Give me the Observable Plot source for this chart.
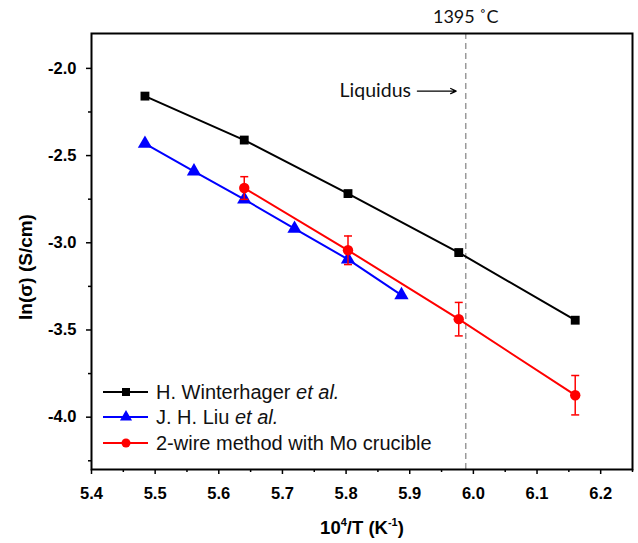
<!DOCTYPE html>
<html><head><meta charset="utf-8">
<script src="https://cdn.jsdelivr.net/npm/d3@7"></script>
<script src="https://cdn.jsdelivr.net/npm/@observablehq/plot@0.6"></script>
<style>
body{margin:0;background:#fff}
svg g[aria-label$="tick label"], svg g[aria-label$="tick label"] text { font-weight: 700 !important; font-family: "Liberation Sans", Arial, sans-serif !important; }
</style>
</head><body><div id="chart"></div>
<script>
// Data
const winterX = [5.484, 5.640, 5.803, 5.977, 6.160];
const winterY = [-2.159, -2.411, -2.718, -3.056, -3.444];
const liuX = [5.484, 5.561, 5.640, 5.719, 5.803, 5.887];
const liuY = [-2.432, -2.590, -2.751, -2.919, -3.095, -3.300];
const moX = [5.640, 5.803, 5.977, 6.160];
const moY = [-2.686, -3.043, -3.438, -3.874];
const moErr = [0.065, 0.082, 0.096, 0.113];
const liquidusX = 5.988;
const liquidusLabel = "1395 ˚C";
const xTicks = [5.4, 5.5, 5.6, 5.7, 5.8, 5.9, 6.0, 6.1, 6.2];
const xMinor = [5.45, 5.55, 5.65, 5.75, 5.85, 5.95, 6.05, 6.15, 6.25];
const yTicks = [-2.0, -2.5, -3.0, -3.5, -4.0];
const yMinor = [-2.25, -2.75, -3.25, -3.75, -4.25];
const seriesNames = ["H. Winterhager", "J. H. Liu", "2-wire method with Mo crucible"];
const seriesItalic = [" et al.", " et al.", ""];
const seriesColors = ["black", "blue", "red"];
const seriesSymbols = ["square", "triangle", "circle"];
const annotation = {text: "Liquidus", x: 5.902, y: -2.13, arrowX1: 5.912, arrowX2: 5.973};

const winter = winterX.map((x, i) => ({x, y: winterY[i]}));
const liu = liuX.map((x, i) => ({x, y: liuY[i]}));
const mo = moX.map((x, i) => ({x, y: moY[i], e: moErr[i]}));

const capSymbol = {draw(ctx, size) { const w = 4; ctx.moveTo(-w, 0); ctx.lineTo(w, 0); }};
const sansFont = '"Liberation Sans", Arial, sans-serif';
const calFont = 'Lato, "Open Sans", sans-serif';
const fmt = d => d.toFixed(1);

const plot = Plot.plot({
  width: 638, height: 543,
  marginLeft: 91, marginRight: 6, marginTop: 33, marginBottom: 74,
  style: {fontFamily: sansFont, background: "white", overflow: "visible"},
  x: {domain: [5.4, 6.25]},
  y: {domain: [-4.3, -1.8]},
  marks: [
    Plot.ruleX([liquidusX], {stroke: "#9a9a9a", strokeWidth: 1.5, strokeDasharray: "6,4"}),
    Plot.text([liquidusX], {x: d => d, frameAnchor: "top", dy: -23, text: () => liquidusLabel,
      fontFamily: calFont, fontSize: 18, fill: "#111"}),
    Plot.text([annotation], {x: "x", y: "y", text: "text", textAnchor: "end",
      fontFamily: calFont, fontSize: 19.5, fill: "#111"}),
    Plot.arrow([annotation], {x1: "arrowX1", x2: "arrowX2", y1: "y", y2: "y",
      stroke: "black", strokeWidth: 1.3, headLength: 7, headAngle: 50}),
    Plot.line(winter, {x: "x", y: "y", stroke: "black", strokeWidth: 2}),
    Plot.dot(winter, {x: "x", y: "y", symbol: "square", r: 5, fill: "black"}),
    Plot.line(liu, {x: "x", y: "y", stroke: "blue", strokeWidth: 2}),
    Plot.dot(liu, {x: "x", y: "y", symbol: "triangle", r: 5.3, fill: "blue"}),
    Plot.ruleX(mo, {x: "x", y1: d => d.y - d.e, y2: d => d.y + d.e, stroke: "red", strokeWidth: 1.5}),
    Plot.dot(mo, {x: "x", y: d => d.y - d.e, symbol: capSymbol, stroke: "red", strokeWidth: 1.5, fill: "none"}),
    Plot.dot(mo, {x: "x", y: d => d.y + d.e, symbol: capSymbol, stroke: "red", strokeWidth: 1.5, fill: "none"}),
    Plot.line(mo, {x: "x", y: "y", stroke: "red", strokeWidth: 2}),
    Plot.dot(mo, {x: "x", y: "y", symbol: "circle", r: 5.2, fill: "red"}),
    Plot.frame({stroke: "black", strokeWidth: 2}),
    Plot.axisX(xTicks, {tickSize: 5, tickPadding: 13, tickFormat: fmt, fontSize: 16.5, fontWeight: "bold", label: null, stroke: "black", strokeWidth: 1.5, fill: "black"}),
    Plot.axisX(xMinor, {tickSize: 3, tickFormat: null, text: null, label: null, stroke: "black", strokeWidth: 1.5}),
    Plot.axisY(yTicks, {tickSize: 5, tickPadding: 10, tickFormat: fmt, fontSize: 16.5, fontWeight: "bold", label: null, stroke: "black", strokeWidth: 1.5, fill: "black"}),
    Plot.axisY(yMinor, {tickSize: 3, tickFormat: null, text: null, label: null, stroke: "black", strokeWidth: 1.5})
  ]
});
document.getElementById("chart").appendChild(plot);

const svg = d3.select(plot);
svg.selectAll("g[aria-label$='tick label'] text")
  .attr("font-weight", "bold").style("font-weight", "bold");

// axis titles
const xt = svg.append("text").attr("x", 362).attr("y", 534).attr("text-anchor", "middle")
  .style("font-family", sansFont).style("font-size", "18.5px").style("font-weight", "bold");
xt.append("tspan").text("10");
xt.append("tspan").style("font-size", "11px").attr("dy", -8).text("4");
xt.append("tspan").attr("dy", 8).text("/T (K");
xt.append("tspan").style("font-size", "11px").attr("dy", -8).text("-1");
xt.append("tspan").attr("dy", 8).text(")");

svg.append("text").attr("transform", "translate(25,267) rotate(-90)").attr("text-anchor", "middle")
  .attr("dy", "0.35em")
  .style("font-family", sansFont).style("font-size", "19px").style("font-weight", "bold")
  .text("ln(σ) (S/cm)");

// legend
const lg = svg.append("g");
const rowY = [392, 417, 443];
seriesNames.forEach((name, i) => {
  const y = rowY[i];
  lg.append("line").attr("x1", 103).attr("x2", 148).attr("y1", y).attr("y2", y)
    .attr("stroke", seriesColors[i]).attr("stroke-width", 2);
  const symType = {square: d3.symbolSquare, triangle: d3.symbolTriangle, circle: d3.symbolCircle}[seriesSymbols[i]];
  lg.append("path").attr("d", d3.symbol(symType, Math.PI * 4.5 * 4.5)())
    .attr("transform", `translate(126,${y})`).attr("fill", seriesColors[i]);
  const t = lg.append("text").attr("x", 156).attr("y", y).attr("dy", "0.36em").attr("text-anchor", "start")
    .style("font-family", sansFont).style("font-size", "20px").attr("fill", "#111");
  t.append("tspan").text(name);
  if (seriesItalic[i]) t.append("tspan").style("font-style", "italic").text(seriesItalic[i]);
});
</script>
</body></html>
